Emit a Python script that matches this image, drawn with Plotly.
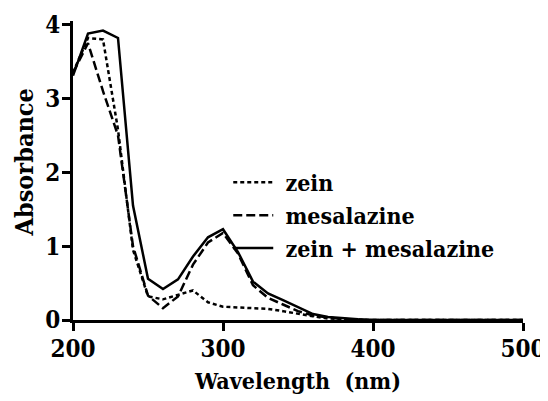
import plotly.graph_objects as go

wavelength = [200, 210, 220, 230, 240, 250, 260, 270, 280, 290, 300, 310, 320, 330, 340,
              350, 360, 370, 380, 390, 400, 410, 420, 430, 440, 450, 460, 470, 480, 490, 500]
zein = [3.35, 3.82, 3.80, 2.58, 0.95, 0.32, 0.28, 0.34, 0.40, 0.24, 0.18, 0.17, 0.16, 0.15, 0.12,
        0.08, 0.05, 0.02, 0.01, 0.0, 0.0, 0.0, 0.0, 0.0, 0.0, 0.0, 0.0, 0.0, 0.0, 0.0, 0.0]
mesalazine = [3.35, 3.75, 3.10, 2.50, 1.00, 0.33, 0.16, 0.32, 0.75, 1.05, 1.18, 0.90, 0.47, 0.30, 0.21,
              0.12, 0.06, 0.03, 0.01, 0.0, 0.0, 0.0, 0.0, 0.0, 0.0, 0.0, 0.0, 0.0, 0.0, 0.0, 0.0]
combined = [3.31, 3.88, 3.92, 3.82, 1.55, 0.56, 0.42, 0.55, 0.86, 1.12, 1.23, 0.92, 0.52, 0.36, 0.27,
            0.17, 0.08, 0.04, 0.02, 0.01, 0.0, 0.0, 0.0, 0.0, 0.0, 0.0, 0.0, 0.0, 0.0, 0.0, 0.0]

x_ticks = [200, 300, 400, 500]
y_ticks = [0, 1, 2, 3, 4]

font_family = "DejaVu Serif Condensed"

fig = go.Figure()
fig.add_trace(go.Scatter(x=wavelength, y=zein, mode="lines", name="<b>\u00a0zein</b>",
                         line=dict(color="black", width=2.5, dash="4px,3px")))
fig.add_trace(go.Scatter(x=wavelength, y=mesalazine, mode="lines", name="<b>\u00a0mesalazine</b>",
                         line=dict(color="black", width=2.5, dash="9px,4px")))
fig.add_trace(go.Scatter(x=wavelength, y=combined, mode="lines", name="<b>\u00a0zein + mesalazine</b>",
                         line=dict(color="black", width=2.5)))

fig.update_layout(
    width=540, height=393,
    margin=dict(l=65, r=25, t=13, b=81),
    paper_bgcolor="white", plot_bgcolor="white",
    font=dict(family=font_family, color="black", size=22),
    legend=dict(x=0.345, y=0.35, xanchor="left", yanchor="middle",
                bgcolor="rgba(0,0,0,0)", font=dict(size=23, family=font_family),
                tracegroupgap=0, itemwidth=40),
    showlegend=True,
    annotations=[dict(text="<b>Absorbance</b>", textangle=-90, showarrow=False,
                      xref="paper", yref="paper", x=0, y=0.5, xanchor="center", yanchor="middle",
                      xshift=-49, yshift=8, font=dict(size=25, family=font_family))],
)
fig.update_xaxes(
    range=[200, 500], tickvals=x_ticks, ticktext=[f"<b>{v}</b>" for v in x_ticks],
    showline=True, linecolor="black", linewidth=3,
    ticks="outside", ticklen=8, tickwidth=3, tickcolor="black",
    showgrid=False, zeroline=False, automargin=False, ticklabelstandoff=-3,
    tickfont=dict(size=24, family=font_family),
    title=dict(text="<b>Wavelength\u00a0 (nm)</b>", font=dict(size=23, family=font_family), standoff=12),
)
fig.update_yaxes(
    range=[0, 4.05], tickvals=y_ticks, ticktext=[f"<b>{v}</b>" for v in y_ticks],
    showline=True, linecolor="black", linewidth=3,
    ticks="outside", ticklen=8, tickwidth=3, tickcolor="black",
    showgrid=False, zeroline=False, automargin=False, ticklabelstandoff=-3,
    tickfont=dict(size=24, family=font_family),
)

fig.write_html("out.html")
